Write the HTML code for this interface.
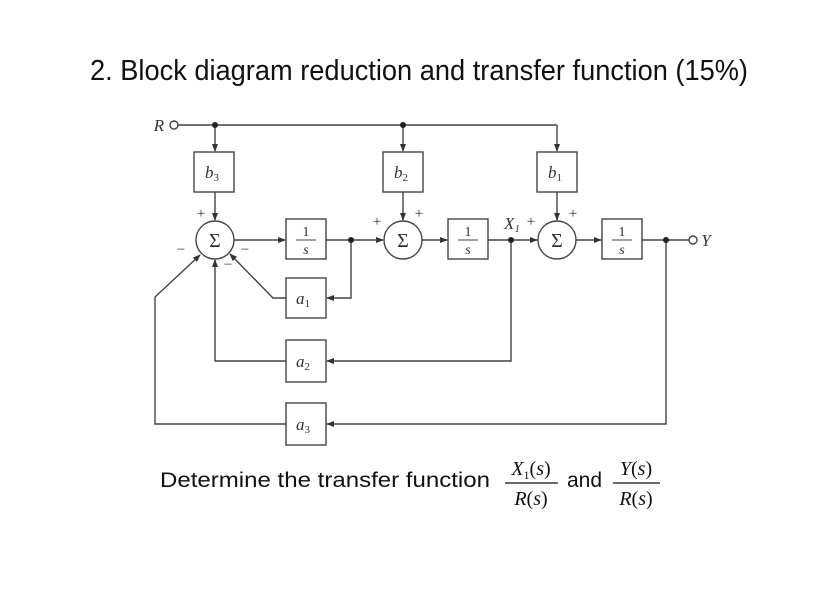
<!DOCTYPE html>
<html><head><style>html,body{margin:0;padding:0;background:#fff}svg{display:block}</style></head>
<body>
<svg width="835" height="604" viewBox="0 0 835 604" xmlns="http://www.w3.org/2000/svg">
<defs><marker id="a" markerWidth="8" markerHeight="8" refX="7" refY="4" orient="auto" markerUnits="userSpaceOnUse"><path d="M0,1 L8,4 L0,7 z" fill="#333"/></marker></defs>
<text x="90" y="80" font-family="Liberation Sans, sans-serif" font-size="29" fill="#111" textLength="658" lengthAdjust="spacingAndGlyphs">2. Block diagram reduction and transfer function (15%)</text>
<g stroke="#444" stroke-width="1.4" fill="none">
<circle cx="174" cy="125" r="4" fill="#fff"/>
<line x1="178" y1="125" x2="557" y2="125"/>
<line x1="215" y1="125" x2="215" y2="151" marker-end="url(#a)"/>
<line x1="403" y1="125" x2="403" y2="151" marker-end="url(#a)"/>
<line x1="557" y1="125" x2="557" y2="151" marker-end="url(#a)"/>
<rect x="194" y="152" width="40" height="40"/>
<rect x="383" y="152" width="40" height="40"/>
<rect x="537" y="152" width="40" height="40"/>
<line x1="215" y1="192" x2="215" y2="220" marker-end="url(#a)"/>
<line x1="403" y1="192" x2="403" y2="220" marker-end="url(#a)"/>
<line x1="557" y1="192" x2="557" y2="220" marker-end="url(#a)"/>
<circle cx="215" cy="240" r="19"/>
<circle cx="403" cy="240" r="19"/>
<circle cx="557" cy="240" r="19"/>
<rect x="286" y="219" width="40" height="40"/>
<rect x="448" y="219" width="40" height="40"/>
<rect x="602" y="219" width="40" height="40"/>
<line x1="234" y1="240" x2="285" y2="240" marker-end="url(#a)"/>
<line x1="326" y1="240" x2="383" y2="240" marker-end="url(#a)"/>
<line x1="422" y1="240" x2="447" y2="240" marker-end="url(#a)"/>
<line x1="488" y1="240" x2="537" y2="240" marker-end="url(#a)"/>
<line x1="576" y1="240" x2="601" y2="240" marker-end="url(#a)"/>
<line x1="642" y1="240" x2="689" y2="240"/>
<circle cx="693" cy="240" r="4" fill="#fff"/>
<rect x="286" y="278" width="40" height="40"/>
<rect x="286" y="340" width="40" height="42"/>
<rect x="286" y="403" width="40" height="42"/>
<polyline points="351,240 351,298 327,298" marker-end="url(#a)"/>
<polyline points="511,240 511,361 327,361" marker-end="url(#a)"/>
<polyline points="666,240 666,424 327,424" marker-end="url(#a)"/>
<polyline points="286,298 273,298 230,254" marker-end="url(#a)"/>
<polyline points="286,361 215,361 215,260" marker-end="url(#a)"/>
<polyline points="286,424 155,424 155,297 200,255" marker-end="url(#a)"/>
</g>
<g fill="#222"><circle cx="215" cy="125" r="3"/><circle cx="403" cy="125" r="3"/><circle cx="351" cy="240" r="3"/><circle cx="511" cy="240" r="3"/><circle cx="666" cy="240" r="3"/></g>
<g font-family="Liberation Serif, serif" fill="#333" text-anchor="middle">
<text x="159" y="131" font-size="17" font-style="italic">R</text>
<text x="706" y="246" font-size="17" font-style="italic">Y</text>
<text x="212" y="178" font-size="17" font-style="italic">b<tspan font-size="11" font-style="normal" dy="3">3</tspan></text>
<text x="401" y="178" font-size="17" font-style="italic">b<tspan font-size="11" font-style="normal" dy="3">2</tspan></text>
<text x="555" y="178" font-size="17" font-style="italic">b<tspan font-size="11" font-style="normal" dy="3">1</tspan></text>
<text x="303" y="304" font-size="17" font-style="italic">a<tspan font-size="11" font-style="normal" dy="3">1</tspan></text>
<text x="303" y="367" font-size="17" font-style="italic">a<tspan font-size="11" font-style="normal" dy="3">2</tspan></text>
<text x="303" y="430" font-size="17" font-style="italic">a<tspan font-size="11" font-style="normal" dy="3">3</tspan></text>
<text x="215" y="247" font-size="20">Σ</text><text x="403" y="247" font-size="20">Σ</text><text x="557" y="247" font-size="20">Σ</text>
<g font-size="14"><text x="306" y="236">1</text><text x="306" y="254" font-style="italic">s</text><text x="468" y="236">1</text><text x="468" y="254" font-style="italic">s</text><text x="622" y="236">1</text><text x="622" y="254" font-style="italic">s</text></g>
<text x="512" y="229" font-size="17" font-style="italic">X<tspan font-size="11" dy="3">1</tspan></text>
<g font-size="15"><text x="201" y="218">+</text><text x="419" y="218">+</text><text x="573" y="218">+</text><text x="377" y="226">+</text><text x="531" y="226">+</text>
<text x="181" y="254">−</text><text x="245" y="254">−</text><text x="228" y="269">−</text></g>
</g>
<g stroke="#444" stroke-width="0.9"><line x1="296" y1="240" x2="316" y2="240"/><line x1="458" y1="240" x2="478" y2="240"/><line x1="612" y1="240" x2="632" y2="240"/></g>
<text x="160" y="487" font-family="Liberation Sans, sans-serif" font-size="21" fill="#111" textLength="330" lengthAdjust="spacingAndGlyphs">Determine the transfer function</text>
<text x="567" y="487" font-family="Liberation Sans, sans-serif" font-size="21" fill="#111">and</text>
<g font-family="Liberation Serif, serif" font-size="20" fill="#111" text-anchor="middle">
<text x="531" y="475"><tspan font-style="italic">X</tspan><tspan font-size="12" dy="4">1</tspan><tspan dy="-4">(</tspan><tspan font-style="italic">s</tspan>)</text>
<text x="531" y="505"><tspan font-style="italic">R</tspan>(<tspan font-style="italic">s</tspan>)</text>
<text x="636" y="475"><tspan font-style="italic">Y</tspan>(<tspan font-style="italic">s</tspan>)</text>
<text x="636" y="505"><tspan font-style="italic">R</tspan>(<tspan font-style="italic">s</tspan>)</text>
</g>
<g stroke="#111" stroke-width="1.2"><line x1="505" y1="483" x2="558" y2="483"/><line x1="613" y1="483" x2="660" y2="483"/></g>
</svg>
</body></html>
